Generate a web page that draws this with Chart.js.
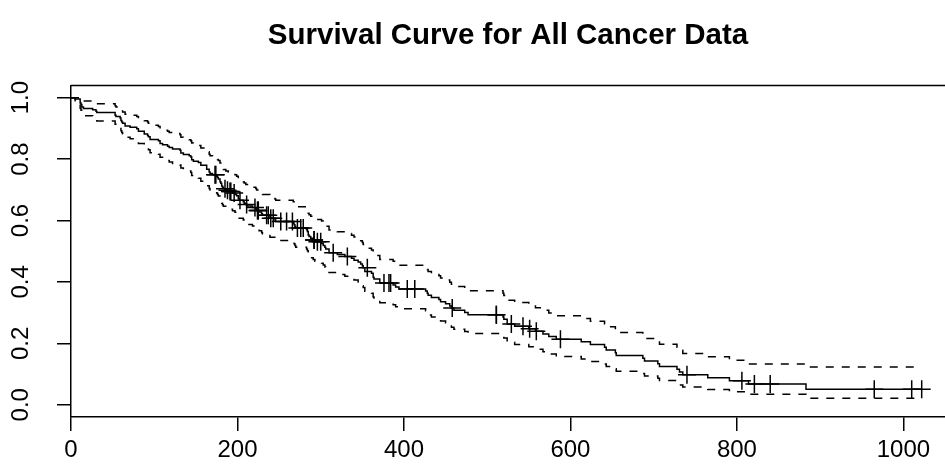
<!DOCTYPE html>
<html><head><meta charset="utf-8">
<script src="https://cdn.jsdelivr.net/npm/chart.js@4.4.1/dist/chart.umd.min.js"></script>
<style>html,body{margin:0;padding:0;background:#fff;overflow:hidden}canvas{display:block}</style>
</head><body>
<canvas id="c" width="945" height="475"></canvas>
<script>
// Kaplan-Meier estimate: event times, survival and 95% confidence limits
const eventTimes = [
  5,11,12,13,15,26,30,31,53,54,
  59,60,61,62,65,71,79,81,88,92,
  93,95,105,107,110,116,118,122,131,132,
  135,142,144,145,147,153,156,163,166,167,
  170,175,176,177,179,180,181,182,183,186,
  189,194,197,199,201,202,207,208,210,212,
  218,222,223,226,229,230,239,245,246,267,
  268,269,270,283,284,285,286,288,291,293,
  301,303,305,306,310,320,329,337,340,345,
  348,350,351,353,361,363,364,371,387,390,
  394,426,428,429,433,442,444,450,455,457,
  460,473,477,519,520,524,533,550,558,567,
  574,583,613,624,641,643,654,655,687,689,
  705,707,728,731,735,765,791,814,883
];
const survival = [
  0.9956,0.9825,0.9781,0.9693,0.9649,0.9605,0.9561,0.9518,0.9430,0.9386,
  0.9342,0.9254,0.9211,0.9167,0.9079,0.9035,0.8991,0.8904,0.8816,0.8772,
  0.8728,0.8640,0.8596,0.8507,0.8463,0.8418,0.8374,0.8330,0.8285,0.8197,
  0.8153,0.8108,0.8064,0.7975,0.7931,0.7887,0.7798,0.7665,0.7577,0.7532,
  0.7488,0.7443,0.7398,0.7353,0.7262,0.7217,0.7126,0.7081,0.7035,0.6989,
  0.6943,0.6897,0.6850,0.6803,0.6708,0.6661,0.6613,0.6565,0.6517,0.6469,
  0.6421,0.6372,0.6323,0.6273,0.6223,0.6172,0.6070,0.6019,0.5967,0.5913,
  0.5860,0.5807,0.5753,0.5698,0.5642,0.5531,0.5475,0.5419,0.5363,0.5306,
  0.5248,0.5189,0.5129,0.5070,0.4950,0.4890,0.4830,0.4768,0.4707,0.4646,
  0.4585,0.4524,0.4463,0.4340,0.4278,0.4154,0.4092,0.3966,0.3900,0.3834,
  0.3768,0.3700,0.3631,0.3563,0.3494,0.3426,0.3357,0.3287,0.3217,0.3147,
  0.3076,0.3004,0.2933,0.2858,0.2783,0.2632,0.2555,0.2475,0.2392,0.2307,
  0.2221,0.2136,0.2047,0.1958,0.1869,0.1780,0.1691,0.1602,0.1513,0.1424,
  0.1335,0.1246,0.1157,0.1068,0.0979,0.0881,0.0783,0.0671,0.0503
];
const lowerCI = [
  0.9871,0.9656,0.9592,0.9472,0.9413,0.9356,0.9299,0.9243,0.9134,0.9079,
  0.9026,0.8920,0.8867,0.8815,0.8711,0.8660,0.8609,0.8507,0.8406,0.8356,
  0.8306,0.8206,0.8156,0.8056,0.8007,0.7957,0.7908,0.7859,0.7810,0.7712,
  0.7663,0.7615,0.7566,0.7469,0.7421,0.7373,0.7277,0.7134,0.7039,0.6991,
  0.6944,0.6896,0.6848,0.6800,0.6704,0.6655,0.6559,0.6511,0.6464,0.6416,
  0.6367,0.6318,0.6269,0.6219,0.6120,0.6071,0.6020,0.5970,0.5920,0.5870,
  0.5820,0.5769,0.5718,0.5666,0.5613,0.5562,0.5456,0.5402,0.5349,0.5294,
  0.5239,0.5184,0.5128,0.5071,0.5014,0.4899,0.4841,0.4784,0.4727,0.4669,
  0.4609,0.4549,0.4488,0.4427,0.4306,0.4244,0.4183,0.4121,0.4060,0.3998,
  0.3937,0.3876,0.3815,0.3693,0.3631,0.3508,0.3447,0.3323,0.3258,0.3193,
  0.3128,0.3060,0.2993,0.2926,0.2860,0.2793,0.2727,0.2659,0.2592,0.2525,
  0.2456,0.2388,0.2320,0.2248,0.2177,0.2035,0.1962,0.1887,0.1810,0.1729,
  0.1650,0.1571,0.1489,0.1407,0.1327,0.1247,0.1169,0.1091,0.1014,0.0938,
  0.0863,0.0789,0.0716,0.0645,0.0575,0.0498,0.0423,0.0338,0.0207
];
const upperCI = [
  1.000,1.000,0.997,0.992,0.989,0.986,0.983,0.980,0.974,0.970,
  0.967,0.960,0.957,0.953,0.946,0.943,0.939,0.932,0.925,0.921,
  0.917,0.910,0.906,0.898,0.894,0.891,0.887,0.883,0.879,0.871,
  0.867,0.863,0.859,0.852,0.848,0.844,0.836,0.824,0.816,0.811,
  0.807,0.803,0.799,0.795,0.787,0.783,0.774,0.770,0.766,0.761,
  0.757,0.753,0.749,0.744,0.735,0.731,0.726,0.722,0.717,0.713,
  0.708,0.704,0.699,0.694,0.690,0.685,0.675,0.670,0.666,0.661,
  0.656,0.651,0.645,0.640,0.635,0.624,0.619,0.614,0.608,0.603,
  0.598,0.592,0.586,0.581,0.569,0.563,0.558,0.552,0.546,0.540,
  0.534,0.528,0.522,0.510,0.504,0.492,0.486,0.473,0.467,0.460,
  0.454,0.447,0.440,0.434,0.427,0.420,0.413,0.406,0.399,0.392,
  0.385,0.378,0.371,0.363,0.356,0.340,0.333,0.325,0.316,0.308,
  0.299,0.290,0.281,0.272,0.263,0.254,0.245,0.235,0.226,0.216,
  0.207,0.197,0.187,0.177,0.167,0.156,0.145,0.133,0.123
];
// censored observations (marked with +)
const censorTimes = [
  173,174,185,188,191,192,196,203,211,221,
  224,225,225,235,237,240,243,252,259,266,
  272,276,279,292,292,296,300,315,332,356,
  376,382,384,404,413,458,511,511,529,543,
  551,559,588,740,806,821,840,965,1010,1022
];
const censorSurvival = [
  0.7488,0.7488,0.7035,0.6989,0.6943,0.6943,0.6897,0.6661,0.6517,0.6421,
  0.6323,0.6323,0.6323,0.6172,0.6172,0.6070,0.6070,0.5967,0.5967,0.5967,
  0.5753,0.5753,0.5753,0.5363,0.5363,0.5306,0.5306,0.4950,0.4830,0.4463,
  0.3966,0.3966,0.3966,0.3768,0.3768,0.3147,0.2933,0.2933,0.2632,0.2555,
  0.2475,0.2392,0.2136,0.0979,0.0783,0.0671,0.0671,0.0503,0.0503,0.0503
];
const startTime = 0;
const lastTime = 1022;
const xTickValues = [0, 200, 400, 600, 800, 1000];
const yTickValues = [0.0, 0.2, 0.4, 0.6, 0.8, 1.0];
const titleText = 'Survival Curve for All Cancer Data';

function stepSeries(vals) {
  const pts = [{x: startTime, y: 1}];
  eventTimes.forEach((t, i) => pts.push({x: t, y: vals[i]}));
  pts.push({x: lastTime, y: vals[vals.length - 1]});
  return pts;
}

const FONT = 'Liberation Sans, Arial, sans-serif';
const lineStyle = {showLine: true, stepped: 'before', borderColor: '#000', borderWidth: 1.5,
  pointRadius: 0, pointHoverRadius: 0, fill: false};

const boxPlugin = {
  id: 'boxTop',
  afterDatasetsDraw(chart) {
    const a = chart.chartArea, ctx = chart.ctx;
    ctx.save();
    ctx.strokeStyle = '#000';
    ctx.lineWidth = 1.5;
    ctx.beginPath();
    ctx.moveTo(a.left, a.top);
    ctx.lineTo(a.right + 2, a.top);
    ctx.stroke();
    ctx.restore();
  }
};

new Chart(document.getElementById('c'), {
  type: 'scatter',
  data: {
    datasets: [
      Object.assign({label: 'Survival', data: stepSeries(survival)}, lineStyle),
      Object.assign({label: 'Upper 95% CI', data: stepSeries(upperCI), borderDash: [8, 8]}, lineStyle),
      Object.assign({label: 'Lower 95% CI', data: stepSeries(lowerCI), borderDash: [8, 8]}, lineStyle),
      {label: 'Censored', data: censorTimes.map((t, i) => ({x: t, y: censorSurvival[i]})),
       showLine: false, pointStyle: 'cross', pointRadius: 9, pointHoverRadius: 9,
       pointBorderWidth: 1.5, pointBorderColor: '#000', pointBackgroundColor: '#000'}
    ]
  },
  options: {
    responsive: false,
    animation: false,
    devicePixelRatio: 1,
    layout: {padding: 0, autoPadding: false},
    events: [],
    plugins: {
      legend: {display: false},
      tooltip: {enabled: false},
      title: {display: true, text: titleText, color: '#000', fullSize: false,
        font: {family: FONT, size: 29.5, weight: 'bold'},
        padding: {top: 18, bottom: 32}}
    },
    scales: {
      x: {
        type: 'linear', position: 'bottom', min: 0, max: 1050,
        grid: {display: true, drawOnChartArea: false, drawTicks: true, tickLength: 14, color: '#000', lineWidth: 1.5},
        border: {display: true, color: '#000', width: 1.5},
        ticks: {color: '#000', font: {family: FONT, size: 24}, padding: 5, includeBounds: false,
          maxRotation: 0, autoSkip: false, callback: v => String(v)},
        afterBuildTicks: s => { s.ticks = xTickValues.map(v => ({value: v})); },
        afterFit: s => { s.height = 58; s.paddingLeft = 0; s.paddingRight = 0; }
      },
      y: {
        type: 'linear', position: 'left', min: -0.04, max: 1.04,
        grid: {display: true, drawOnChartArea: false, drawTicks: true, tickLength: 14, color: '#000', lineWidth: 1.5},
        border: {display: true, color: '#000', width: 1.5},
        ticks: {color: '#000', font: {family: FONT, size: 24}, padding: 19, includeBounds: false,
          minRotation: 90, maxRotation: 90, crossAlign: 'center', autoSkip: false,
          callback: v => Number(v).toFixed(1)},
        afterBuildTicks: s => { s.ticks = yTickValues.map(v => ({value: v})); },
        afterFit: s => { s.width = 71; s.paddingTop = 0; s.paddingBottom = 0; }
      }
    }
  },
  plugins: [boxPlugin]
});
</script>
</body></html>
